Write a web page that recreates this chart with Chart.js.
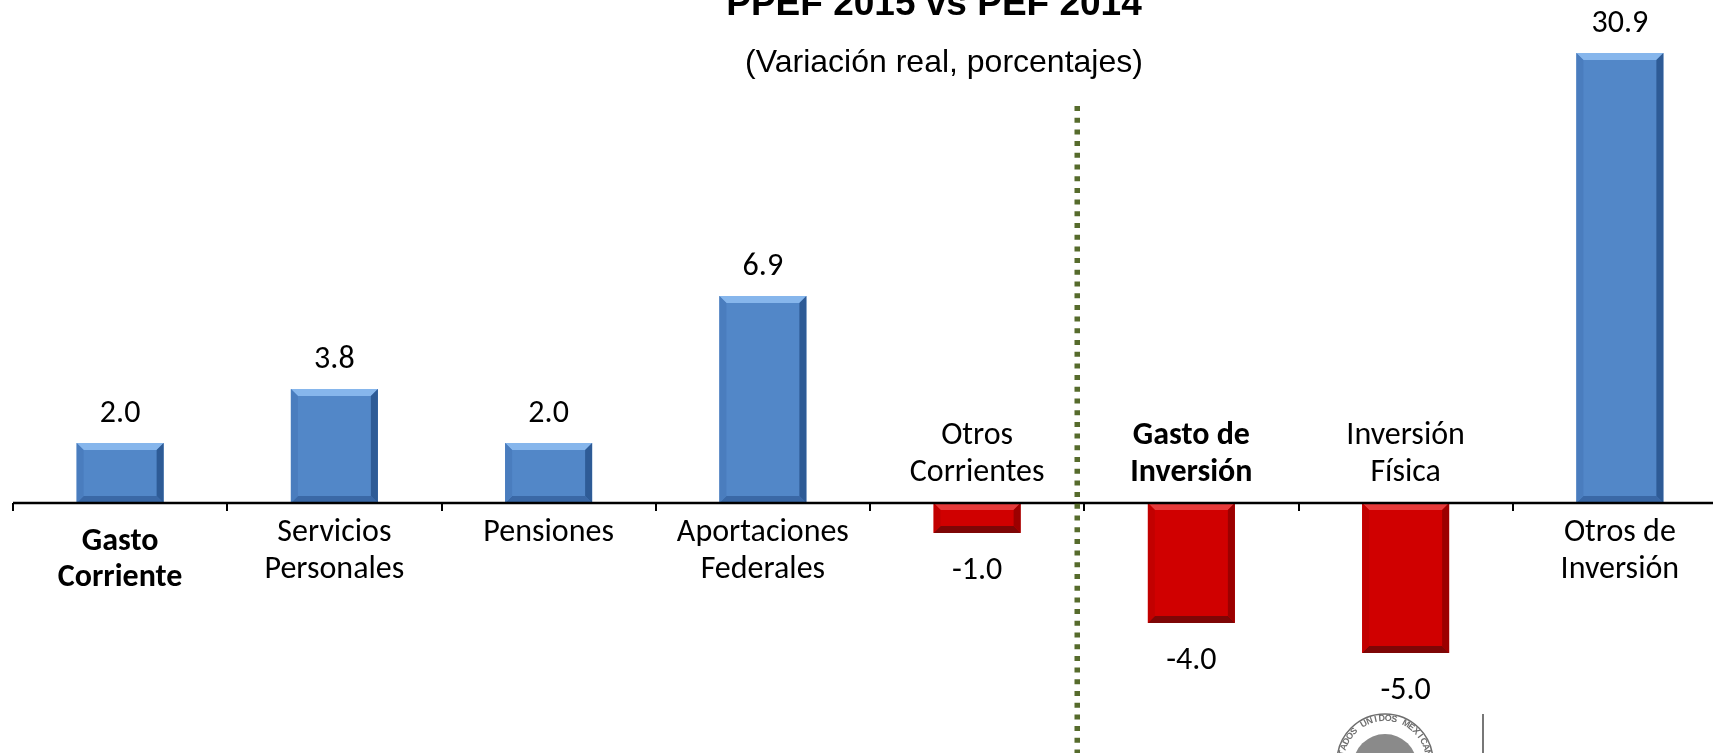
<!DOCTYPE html>
<html lang="es">
<head>
<meta charset="utf-8">
<title>PPEF 2015 vs PEF 2014</title>
<script src="https://cdn.jsdelivr.net/npm/chart.js@4.4.1/dist/chart.umd.min.js"></script>
<style>
  html, body { margin: 0; padding: 0; background: #fff; overflow: hidden; }
  #wrap { width: 1740px; height: 753px; }
</style>
</head>
<body>
<div id="wrap"><canvas id="grafica" width="1740" height="753"></canvas></div>
<script>
const categorias = [
  ['Gasto', 'Corriente'],
  ['Servicios', 'Personales'],
  ['Pensiones'],
  ['Aportaciones', 'Federales'],
  ['Otros', 'Corrientes'],
  ['Gasto de', 'Inversión'],
  ['Inversión', 'Física'],
  ['Otros de', 'Inversión'],
];
const valores   = [2.0, 3.8, 2.0, 6.9, -1.0, -4.0, -5.0, 30.9];
const enNegrita = [true, false, false, false, false, true, false, false];

const titulo    = 'PPEF 2015 vs PEF 2014';
const subtitulo = '(Variación real, porcentajes)';

const COLORES = {
  azul:  { cara: '#5287C8', arriba: '#86B6EC', abajo: '#3A68A6', izq: '#4A7DBE', der: '#2E5B96' },
  rojo:  { cara: '#D00000', arriba: '#E63A3A', abajo: '#7E0606', izq: '#C20000', der: '#9C0000' },
  eje:   '#000000',
  punteo:'#566B2C',
  texto: '#000000',
  sello: '#6E6E6E',
};

const FUENTE_CAL = 'Carlito, Lato, "Open Sans", sans-serif';
const FUENTE_ARI = '"Liberation Sans", Arial, sans-serif';

function poligono(ctx, pts, color) {
  ctx.beginPath();
  ctx.moveTo(pts[0][0], pts[0][1]);
  for (let i = 1; i < pts.length; i++) ctx.lineTo(pts[i][0], pts[i][1]);
  ctx.closePath();
  ctx.fillStyle = color;
  ctx.fill();
}

function bisel(ctx, l, r, t, b, c) {
  const e = Math.min(7, (b - t) / 3);
  poligono(ctx, [[l, t], [r, t], [r - e, t + e], [l + e, t + e]], c.arriba);
  poligono(ctx, [[l, b], [r, b], [r - e, b - e], [l + e, b - e]], c.abajo);
  poligono(ctx, [[l, t], [l + e, t + e], [l + e, b - e], [l, b]], c.izq);
  poligono(ctx, [[r, t], [r - e, t + e], [r - e, b - e], [r, b]], c.der);
}

const decoracion = {
  id: 'decoracion',
  afterDatasetsDraw(chart) {
    const { ctx, chartArea, scales: { x, y } } = chart;
    const cero = y.getPixelForValue(0);
    const paso = x.getPixelForValue(1) - x.getPixelForValue(0);

    ctx.save();

    // bisel de las barras
    chart.getDatasetMeta(0).data.forEach((barra, i) => {
      const c = valores[i] >= 0 ? COLORES.azul : COLORES.rojo;
      const l = barra.x - barra.width / 2;
      const r = barra.x + barra.width / 2;
      const t = Math.max(Math.min(barra.y, barra.base), chartArea.top);
      const b = Math.max(barra.y, barra.base);
      bisel(ctx, l, r, t, b, c);
    });

    // eje horizontal y marcas
    ctx.strokeStyle = COLORES.eje;
    ctx.lineWidth = 2.5;
    ctx.beginPath();
    ctx.moveTo(chartArea.left, cero);
    ctx.lineTo(chartArea.right, cero);
    ctx.stroke();
    ctx.lineWidth = 2;
    for (let k = 0; k <= categorias.length; k++) {
      const xm = Math.round(x.getPixelForValue(0) - paso / 2 + k * paso);
      ctx.beginPath();
      ctx.moveTo(xm, cero);
      ctx.lineTo(xm, cero + 8);
      ctx.stroke();
    }

    // separador punteado
    const xs = (x.getPixelForValue(4) + x.getPixelForValue(5)) / 2 - 7;
    ctx.strokeStyle = COLORES.punteo;
    ctx.lineWidth = 5.5;
    ctx.setLineDash([5, 6.7]);
    ctx.beginPath();
    ctx.moveTo(xs, 106);
    ctx.lineTo(xs, chart.height);
    ctx.stroke();
    ctx.setLineDash([]);

    // valores
    ctx.fillStyle = COLORES.texto;
    ctx.textAlign = 'center';
    ctx.textBaseline = 'middle';
    ctx.font = '32px ' + FUENTE_CAL;
    chart.getDatasetMeta(0).data.forEach((barra, i) => {
      const v = valores[i];
      if (v >= 0) {
        const t = Math.max(barra.y, chartArea.top);
        ctx.fillText(v.toFixed(1), barra.x, t - 29);
      } else {
        ctx.fillText(v.toFixed(1), barra.x, barra.y + 38);
      }
    });

    // categorias
    ctx.textBaseline = 'alphabetic';
    categorias.forEach((lineas, i) => {
      const xc = x.getPixelForValue(i);
      ctx.font = (enNegrita[i] ? 'bold ' : '') + '32px ' + FUENTE_CAL;
      let bases;
      if (valores[i] >= 0) {
        bases = enNegrita[i] ? [cero + 47, cero + 83] : [cero + 38, cero + 75];
      } else {
        bases = [cero - 59, cero - 22];
      }
      lineas.forEach((txt, j) => ctx.fillText(txt, xc, bases[j]));
    });

    // titulos
    ctx.font = 'bold 37px ' + FUENTE_ARI;
    ctx.fillText(titulo, 934, 15);
    ctx.font = '32px ' + FUENTE_ARI;
    ctx.fillText(subtitulo, 944, 72);

    // sello (recortado en el borde inferior)
    const cx = 1385, cy = 762, rr = 48;
    ctx.strokeStyle = COLORES.sello;
    ctx.lineWidth = 1.5;
    ctx.beginPath();
    ctx.arc(cx, cy, rr, 0, Math.PI * 2);
    ctx.stroke();
    ctx.fillStyle = '#8a8a8a';
    ctx.beginPath();
    ctx.arc(cx, cy + 4, 32, 0, Math.PI * 2);
    ctx.fill();
    ctx.fillStyle = COLORES.sello;
    ctx.font = 'bold 9px ' + FUENTE_ARI;
    const lema = 'ESTADOS UNIDOS MEXICANOS';
    const a0 = -Math.PI * 1.05, a1 = -Math.PI * -0.05;
    for (let i = 0; i < lema.length; i++) {
      const a = a0 + (a1 - a0) * (i + 0.5) / lema.length;
      ctx.save();
      ctx.translate(cx + Math.cos(a) * (rr - 7), cy + Math.sin(a) * (rr - 7));
      ctx.rotate(a + Math.PI / 2);
      ctx.fillText(lema[i], 0, 0);
      ctx.restore();
    }
    ctx.strokeStyle = '#777';
    ctx.lineWidth = 2;
    ctx.beginPath();
    ctx.moveTo(1483, 714);
    ctx.lineTo(1483, chart.height);
    ctx.stroke();

    ctx.restore();
  },
};

new Chart(document.getElementById('grafica'), {
  type: 'bar',
  data: {
    labels: categorias.map(c => c.join(' ')),
    datasets: [{
      data: valores,
      backgroundColor: valores.map(v => v >= 0 ? COLORES.azul.cara : COLORES.rojo.cara),
      borderWidth: 0,
      categoryPercentage: 1,
      barPercentage: 0.406,
    }],
  },
  options: {
    responsive: false,
    devicePixelRatio: 1,
    animation: false,
    layout: { padding: { left: 13, right: 13, top: 53, bottom: 0 } },
    plugins: {
      legend: { display: false },
      title: { display: false },
      tooltip: { enabled: false },
    },
    scales: {
      x: { display: false, offset: true, grid: { display: false } },
      y: { display: false, min: -8.33, max: 15 },
    },
  },
  plugins: [decoracion],
});
</script>
</body>
</html>
